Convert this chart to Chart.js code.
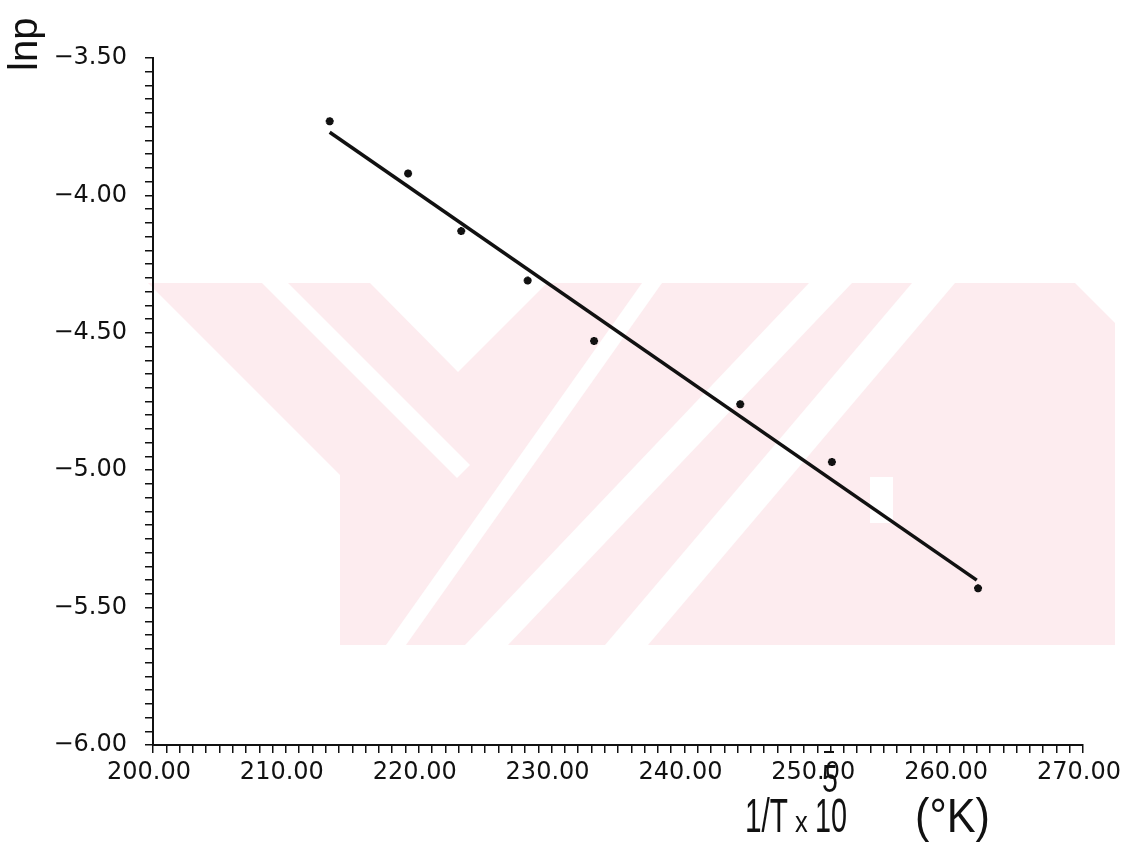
<!DOCTYPE html>
<html>
<head>
<meta charset="utf-8">
<title>lnp vs 1/T</title>
<script src="https://cdn.jsdelivr.net/npm/chart.js@4.4.1/dist/chart.umd.min.js"></script>
<style>
  html, body { margin: 0; padding: 0; background: #fff; }
</style>
</head>
<body>
<canvas id="lnp-chart" width="1130" height="851"></canvas>
<script>
// measured points, 1/T x 10^-5 against ln p
const invT = [213.3, 219.2, 223.2, 228.2, 233.2, 244.2, 251.1, 262.1]
const lnP = [-3.73, -3.92, -4.13, -4.31, -4.53, -4.76, -4.97, -5.43]

// ends of the fitted straight line
const fitX = [213.3, 262.0]
const fitY = [-3.77, -5.40]

const xMin = 200, xMax = 270
const yMin = -6.0, yMax = -3.5

const ink = '#111'
const tickFont = { family: 'DejaVu Sans', size: 24 }

const points = invT.map((x, i) => ({ x: x, y: lnP[i] }))
const fitLine = fitX.map((x, i) => ({ x: x, y: fitY[i] }))

// pale stamp behind the plot
const stampPink = '#fdecef'
const stampShape = [[148, 283], [1075, 283], [1115, 323], [1115, 645], [340, 645], [340, 475]]
const stampGaps = [
  [[370, 283], [547, 283], [458, 372]],
  [[262, 283], [288, 283], [470, 465], [457, 478]],
  [[642, 283], [662, 283], [406, 645], [386, 645]],
  [[809, 283], [852, 283], [508, 645], [465, 645]],
  [[912, 283], [955, 283], [648, 645], [605, 645]],
  [[870, 477], [893, 477], [893, 523], [870, 523]]
]

function fillPoly(ctx, pts, color) {
  ctx.beginPath()
  ctx.moveTo(pts[0][0], pts[0][1])
  for (let i = 1; i < pts.length; i++) ctx.lineTo(pts[i][0], pts[i][1])
  ctx.closePath()
  ctx.fillStyle = color
  ctx.fill()
}

const stampPlugin = {
  id: 'stamp',
  beforeDraw(chart) {
    const ctx = chart.ctx
    ctx.save()
    ctx.fillStyle = '#fff'
    ctx.fillRect(0, 0, chart.width, chart.height)
    fillPoly(ctx, stampShape, stampPink)
    stampGaps.forEach(g => fillPoly(ctx, g, '#fff'))
    ctx.restore()
  }
}

// hand lettered axis names
function scaledText(ctx, text, font, x, y, sx) {
  ctx.save()
  ctx.font = font
  ctx.translate(x, y)
  ctx.scale(sx, 1)
  ctx.fillText(text, 0, 0)
  ctx.restore()
}

const axisNames = {
  id: 'axisNames',
  afterDraw(chart) {
    const ctx = chart.ctx
    ctx.save()
    ctx.fillStyle = ink
    ctx.textBaseline = 'alphabetic'
    ctx.textAlign = 'left'

    // lnp, written up the left side
    ctx.save()
    ctx.translate(37, 71)
    ctx.rotate(-Math.PI / 2)
    ctx.font = '40px "Liberation Sans"'
    ctx.fillText('lnp', 0, 0)
    ctx.restore()

    // 1/T x 10^-5 (°K)
    scaledText(ctx, '1/T', '48px "Liberation Sans"', 745, 832, 0.62)
    scaledText(ctx, 'x', '30px "Liberation Sans"', 795, 832, 0.85)
    scaledText(ctx, '10', '48px "Liberation Sans"', 815, 832, 0.6)
    scaledText(ctx, '5', '38px "Liberation Sans"', 822, 792, 0.75)
    ctx.fillRect(824, 751, 10, 2)
    scaledText(ctx, '(\u00B0K)', '48px "Liberation Sans"', 915, 832, 0.9)

    ctx.restore()
  }
}

const ctx = document.getElementById('lnp-chart').getContext('2d')

new Chart(ctx, {
  type: 'scatter',
  data: {
    datasets: [
      {
        label: 'lnp',
        data: points,
        pointStyle: 'star',
        radius: 4,
        borderWidth: 2.5,
        borderColor: ink,
        backgroundColor: ink
      },
      {
        label: 'fit',
        type: 'line',
        data: fitLine,
        showLine: true,
        fill: false,
        borderColor: ink,
        borderWidth: 3.5,
        radius: 0
      }
    ]
  },
  options: {
    responsive: false,
    animation: false,
    layout: { padding: { top: 58, right: 43, left: 0, bottom: 0 } },
    plugins: {
      legend: { display: false },
      tooltip: { enabled: false }
    },
    scales: {
      x: {
        type: 'linear',
        min: xMin,
        max: xMax,
        afterFit(scale) { scale.height = 106 },
        border: { display: true, color: ink, width: 2 },
        grid: { drawOnChartArea: false, drawTicks: true, tickLength: 8, color: ink, lineWidth: 1.5 },
        ticks: {
          stepSize: 1,
          autoSkip: false,
          maxTicksLimit: 200,
          maxRotation: 0,
          minRotation: 0,
          padding: 5,
          labelOffset: -4,
          color: ink,
          font: tickFont,
          callback: v => (Math.round(v) % 10 === 0 ? v.toFixed(2) : '')
        }
      },
      y: {
        type: 'linear',
        min: yMin,
        max: yMax,
        afterFit(scale) { scale.width = 153 },
        border: { display: true, color: ink, width: 2 },
        grid: { drawOnChartArea: false, drawTicks: true, tickLength: 8, color: ink, lineWidth: 1.5 },
        ticks: {
          stepSize: 0.05,
          autoSkip: false,
          maxTicksLimit: 200,
          padding: 18,
          color: ink,
          font: tickFont,
          callback: v => (Math.round(v * 100) % 50 === 0 ? '\u2212' + Math.abs(v).toFixed(2) : '')
        }
      }
    }
  },
  plugins: [stampPlugin, axisNames]
})
</script>
</body>
</html>
